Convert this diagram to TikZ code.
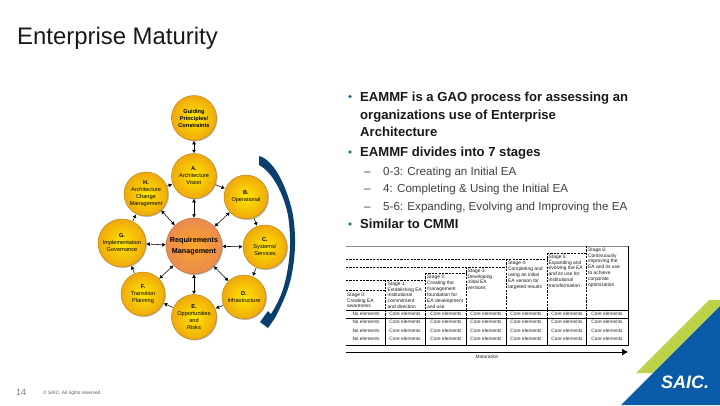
\documentclass[tikz,border=0pt]{standalone}
\usepackage{fontspec}
\setmainfont{Liberation Sans}
\usetikzlibrary{arrows.meta,shadows}
\definecolor{navyarc}{HTML}{0B3F6E}
\definecolor{saicblue}{HTML}{0A5CA8}
\definecolor{saicgreen}{HTML}{BDD14A}
\definecolor{bulletteal}{HTML}{2F6F8F}
\definecolor{footgrey}{HTML}{808080}
\definecolor{goldin}{HTML}{FFE600}
\definecolor{goldout}{HTML}{EFA90C}
\definecolor{goldline}{HTML}{B98A1E}
\definecolor{reqin}{HTML}{F9A62C}
\definecolor{reqout}{HTML}{EC8A4E}
\definecolor{reqline}{HTML}{B5764A}
\tikzset{
  x=1pt,y=-1pt,
  gold/.style={circle,draw=goldline,line width=0.5pt,inner sep=0pt,minimum size=#1,
    inner color=goldin,outer color=goldout,
    general shadow={shadow xshift=1pt,shadow yshift=-1pt,fill=black,opacity=0.25},
    align=center,font=\fontsize{5.6}{7}\selectfont},
  reqc/.style={circle,draw=reqline,line width=0.5pt,inner sep=0pt,minimum size=56pt,
    inner color=reqin,outer color=reqout,
    general shadow={shadow xshift=1pt,shadow yshift=-1pt,fill=black,opacity=0.25},
    align=center,font=\fontsize{7.2}{11}\selectfont\bfseries},
  link/.style={draw=black,line width=0.55pt,{Latex[length=3.5pt,width=4pt]}-{Latex[length=3.5pt,width=4pt]}},
  cyc/.style={draw=black,line width=0.55pt,-{Latex[length=3.5pt,width=4pt]},shorten <=0.5pt,shorten >=0.5pt},
  main/.style={anchor=base west,font=\fontsize{13.1}{13.1}\selectfont\bfseries,text=black!90,inner sep=0pt},
  subb/.style={anchor=base west,font=\fontsize{11.6}{11.6}\selectfont,text=black!75,inner sep=0pt},
  dot/.style={circle,fill=bulletteal,inner sep=0pt,minimum size=3.8pt},
  stagetxt/.style={anchor=north west,align=left,inner sep=0pt,font=\fontsize{4.9}{5.9}\selectfont,text=black!90},
  cell/.style={anchor=center,inner sep=0pt,font=\fontsize{4.8}{5}\selectfont,text=black!85},
  dsh/.style={draw=black,line width=0.7pt,dash pattern=on 2.2pt off 1.2pt},
  sol/.style={draw=black,line width=0.7pt},
}
\begin{document}
\begin{tikzpicture}
\useasboundingbox (0,0) rectangle (720,405);
\fill[white] (0,0) rectangle (720,405);
% title
\node[anchor=base west,inner sep=0pt,font=\fontsize{23.9}{24}\selectfont,text=black!90] (title) at (17,44) {Enterprise Maturity};
% logo
\fill[saicgreen] (636,373) -- (709,300) -- (720,300) -- (720,306) -- (653,373) -- cycle;
\fill[saicblue] (621,405) -- (720,306) -- (720,405) -- cycle;
\node[anchor=base,inner sep=0pt,text=white,font=\fontsize{18}{18}\selectfont\bfseries\itshape] (saic) at (685,388) {SAIC.};
% footer
\node[anchor=base west,inner sep=0pt,text=footgrey,font=\fontsize{9}{9}\selectfont] (pg) at (16,395) {14};
\node[anchor=base west,inner sep=0pt,text=footgrey!70!black,font=\fontsize{4.8}{5}\selectfont] (copy) at (43,394.5) {© SAIC. All rights reserved};
% circles
\node[gold=45pt] (guide) at (194,118) {\textbf{Guiding}\\\textbf{Principles/}\\\textbf{Constraints}};
\node[gold=45pt] (a) at (194,176) {\textbf{A.}\\Architecture\\Vision};
\node[gold=44pt] (h) at (146,194) {\textbf{H.}\\Architecture\\Change\\Management};
\node[gold=44pt] (b) at (246,197) {\textbf{B.}\\Operational};
\node[reqc] (req) at (194,246) {Requirements\\Management};
\node[gold=48pt] (g) at (122,243) {\textbf{G.}\\Implementation\\Governance};
\node[gold=44pt] (c) at (265,247) {\textbf{C.}\\Systems/\\Services};
\node[gold=44pt] (f) at (143,294) {\textbf{F.}\\Transition\\Planning};
\node[gold=44pt] (d) at (244,297) {\textbf{D.}\\Infrastructure};
\node[gold=45pt] (e) at (194,317) {\textbf{E.}\\Opportunities\\and\\Risks};
% connectors
\draw[link] (guide) -- (a);
\draw[link] (a) -- (req);
\draw[link] (h) -- (req);
\draw[link] (b) -- (req);
\draw[link] (g) -- (req);
\draw[link] (c) -- (req);
\draw[link] (f) -- (req);
\draw[link] (d) -- (req);
\draw[link] (e) -- (req);
\draw[cyc] (a) -- (b);
\draw[cyc] (b) -- (c);
\draw[cyc] (c) -- (d);
\draw[cyc] (d) -- (e);
\draw[cyc] (e) -- (f);
\draw[cyc] (f) -- (g);
\draw[cyc] (g) -- (h);
\draw[cyc] (h) -- (a);
% big arc arrow
\fill[navyarc] (259,156) .. controls (275,160) and (288,190) .. (293,215)
  .. controls (296,235) and (296,255) .. (291,278)
  .. controls (287,295) and (280,308) .. (275,318)
  -- (268,328) -- (260,322) -- (268,311) -- (271,314)
  .. controls (278,303) and (283,292) .. (286,278)
  .. controls (291,255) and (291,235) .. (288,215)
  .. controls (283,192) and (272,172) .. (259,165) -- cycle;
% bullets
\node[dot] (d1) at (350,96.5) {};
\node[main] (t1a) at (360,101) {EAMMF is a GAO process for assessing an};
\node[main] (t1b) at (360,119) {organizations use of Enterprise};
\node[main] (t1c) at (360,136.5) {Architecture};
\node[dot] (d2) at (350,152) {};
\node[main] (t2) at (360,156.5) {EAMMF divides into 7 stages};
\node[subb] (s1d) at (364,175) {–};
\node[subb] (s1) at (383,175) {0-3: Creating an Initial EA};
\node[subb] (s2d) at (364,192.5) {–};
\node[subb] (s2) at (383,192.5) {4: Completing \& Using the Initial EA};
\node[subb] (s3d) at (364,210) {–};
\node[subb] (s3) at (383,210) {5-6: Expanding, Evolving and Improving the EA};
\node[dot] (d3) at (350,224) {};
\node[main] (t3) at (360,228.5) {Similar to CMMI};
% table frame
\draw[black!45,line width=0.9pt] (346,246) -- (628,246);
\draw[black,line width=0.6pt] (628,246) -- (628,345.5);
% stair dashes
\draw[dsh] (346,259) -- (547,259);
\draw[dsh] (346,267) -- (506,267);
\draw[dsh] (425,273) -- (466,273);
\draw[dsh] (346,280) -- (425,280);
\draw[dsh] (346,290) -- (385,290);
\draw[dsh] (547,253) -- (586,253);
% verticals
\draw[dsh] (385,280) -- (385,310);
\draw[dsh] (425,273) -- (425,310);
\draw[dsh] (466,267) -- (466,310);
\draw[dsh] (506,259) -- (506,310);
\draw[dsh] (547,253) -- (547,310);
\draw[dsh] (586,246) -- (586,310);
\foreach \xx in {385,425,466,506,547,586}{\draw[sol] (\xx,318) -- (\xx,345.5); \draw[dsh] (\xx,310) -- (\xx,318);}
% rows
\draw[sol] (346,310) -- (628,310);
\draw[sol,line width=0.8pt] (346,318) -- (628,318);
\draw[sol,line width=0.8pt] (346,345.5) -- (628,345.5);
% stage labels
\node[stagetxt] (st0) at (347,292.5) {Stage 0:\\Creating EA\\awareness};
\node[stagetxt] (st1) at (387.5,281.5) {Stage 1:\\Establishing EA\\institutional\\commitment\\and direction};
\node[stagetxt] (st2) at (427,275) {Stage 2:\\Creating the\\management\\foundation for\\EA development\\and use};
\node[stagetxt] (st3) at (467.5,268.5) {Stage 3:\\Developing\\initial EA\\versions};
\node[stagetxt] (st4) at (508,261) {Stage 4:\\Completing and\\using an initial\\EA version for\\targeted results};
\node[stagetxt] (st5) at (548.5,254.5) {Stage 5:\\Expanding and\\evolving the EA\\and its use for\\institutional\\transformation};
\node[stagetxt] (st6) at (588,247.5) {Stage 6:\\Continuously\\improving the\\EA and its use\\to achieve\\corporate\\optimization};
% cells
\foreach \yy in {314,322,331,339}{
  \node[cell] at (366,\yy) {No elements};
  \foreach \xx in {405,446,486,526,567,607}{\node[cell] at (\xx,\yy) {Core elements};}
}
% maturation arrow
\coordinate (ms) at (346,352);
\coordinate (me) at (628,352);
\draw[black,line width=0.7pt,-{Latex[length=6pt,width=7pt]}] (ms) -- (me);
\node[cell] (mat) at (487,356.5) {Maturation};
\end{tikzpicture}
\end{document}
